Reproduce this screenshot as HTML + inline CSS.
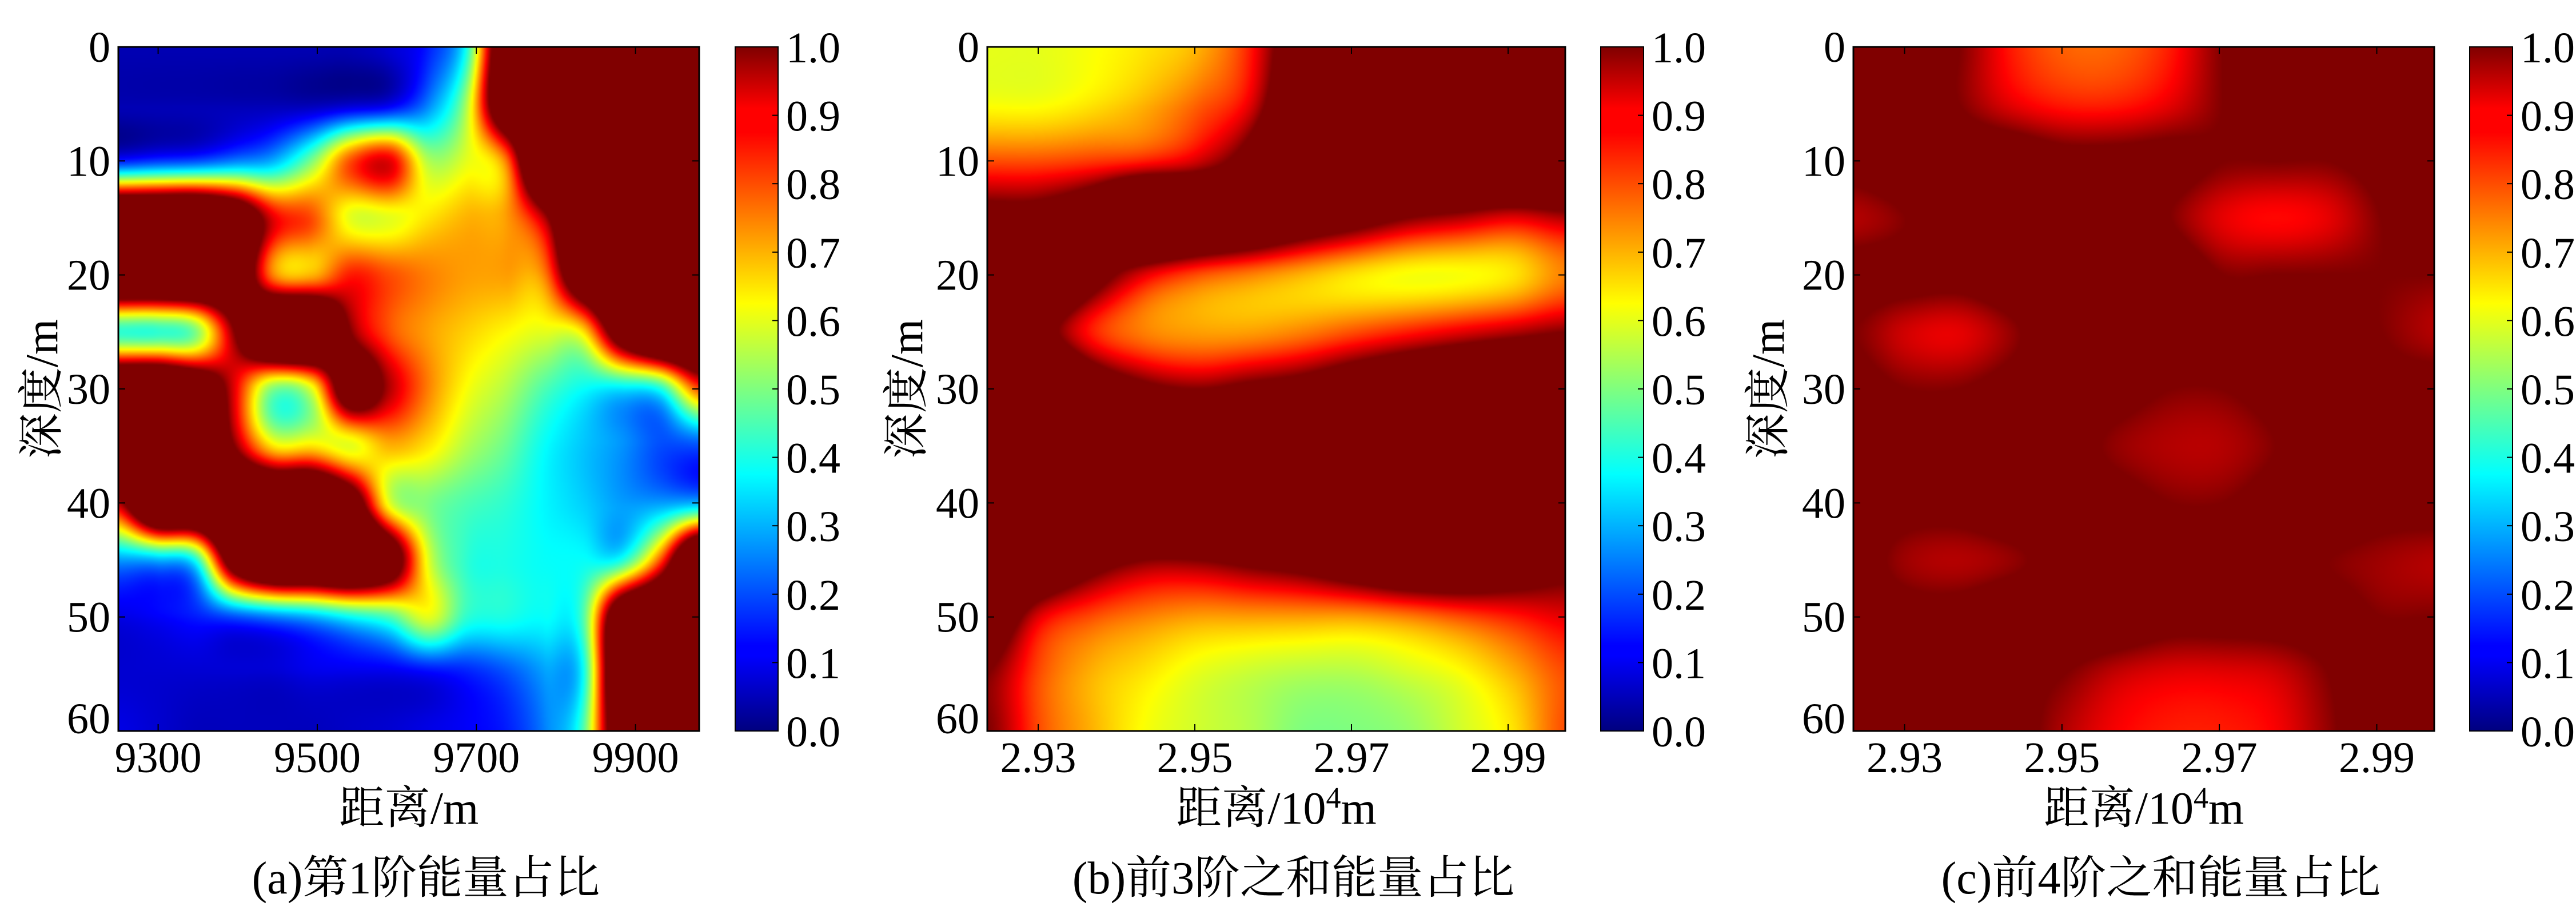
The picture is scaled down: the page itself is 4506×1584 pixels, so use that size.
<!DOCTYPE html>
<html><head><meta charset="utf-8">
<style>
html,body{margin:0;padding:0;background:#fff;}
#wrap{position:relative;width:4506px;height:1584px;overflow:hidden;background:#fff;}
canvas{position:absolute;}
svg{position:absolute;left:0;top:0;font-family:"Liberation Serif","Times New Roman","DejaVu Serif","Noto Serif CJK SC",serif;}
</style></head>
<body>
<div id="wrap">
<canvas id="ca"></canvas>
<canvas id="cb"></canvas>
<canvas id="cc"></canvas>
<svg id="svg" width="4506" height="1584">
<defs>
<linearGradient id="jet" x1="0" y1="1" x2="0" y2="0">
<stop offset="0" stop-color="#00007f"/><stop offset="0.11" stop-color="#0000ff"/>
<stop offset="0.125" stop-color="#0000ff"/><stop offset="0.34" stop-color="#00dbff"/>
<stop offset="0.375" stop-color="#00ffff"/><stop offset="0.5" stop-color="#7fff7f"/>
<stop offset="0.625" stop-color="#ffff00"/><stop offset="0.66" stop-color="#ffdb00"/>
<stop offset="0.875" stop-color="#ff0000"/><stop offset="0.91" stop-color="#ff0000"/>
<stop offset="1" stop-color="#7f0000"/>
</linearGradient>
</defs>
</svg>
</div>
<script>
const depthRows = [0,5,10,15,20,25,30,35,40,45,50,55,60];
const distA = [9250,9299,9347,9396,9445,9493,9542,9591,9639,9688,9737,9785,9834,9883,9931,9980];
const valuesA = [
[0.05,0.05,0.05,0.05,0.05,0.05,0.05,0.08,0.15,0.4,1.3,1.5,1.5,1.5,1.5,1.5],
[0.05,0.05,0.05,0.05,0.05,0.05,0.07,0.1,0.25,0.55,1.3,1.5,1.5,1.5,1.5,1.5],
[0.15,0.18,0.2,0.25,0.3,0.5,0.8,0.9,0.55,0.6,0.75,1.5,1.5,1.5,1.5,1.5],
[1.5,1.5,1.5,1.3,0.9,0.8,0.6,0.6,0.65,0.7,0.72,0.95,1.5,1.5,1.5,1.5],
[1.5,1.5,1.5,1.3,0.75,0.7,0.85,0.8,0.75,0.72,0.72,0.75,1.3,1.5,1.5,1.5],
[0.42,0.42,0.5,1.0,1.5,1.5,1.0,0.8,0.72,0.67,0.63,0.6,0.65,1.2,1.5,1.5],
[1.5,1.5,1.3,0.9,0.5,0.6,1.2,0.95,0.75,0.62,0.55,0.45,0.38,0.35,0.4,0.8],
[1.5,1.5,1.5,1.0,0.65,0.65,0.6,0.7,0.65,0.55,0.48,0.38,0.32,0.27,0.2,0.2],
[0.95,1.5,1.5,1.5,1.5,1.5,1.2,0.6,0.5,0.45,0.42,0.37,0.33,0.28,0.28,0.3],
[0.28,0.3,0.4,1.2,1.5,1.5,1.5,1.2,0.6,0.42,0.4,0.38,0.38,0.4,0.8,1.5],
[0.1,0.12,0.15,0.2,0.25,0.3,0.38,0.45,0.6,0.42,0.4,0.38,0.45,1.3,1.5,1.5],
[0.08,0.08,0.08,0.08,0.08,0.1,0.1,0.1,0.12,0.15,0.2,0.28,0.38,1.4,1.5,1.5],
[0.1,0.08,0.06,0.06,0.06,0.06,0.07,0.08,0.1,0.12,0.15,0.25,0.45,1.3,1.5,1.5]];
const distBC = [2.9235,2.9302,2.9369,2.9436,2.9503,2.9570,2.9638,2.9705,2.9772,2.9839,2.9906,2.9973];
const valuesB = [
[0.6,0.6,0.62,0.65,0.7,0.85,1.2,1.5,1.5,1.5,1.5,1.5],
[0.62,0.62,0.65,0.7,0.78,0.9,1.3,1.5,1.5,1.5,1.5,1.5],
[0.8,0.8,0.82,0.85,0.92,1.1,1.5,1.5,1.5,1.5,1.5,1.5],
[1.1,1.1,1.2,1.5,1.4,1.3,1.2,1.1,1.0,0.95,0.9,0.95],
[1.5,1.4,1.1,0.9,0.8,0.75,0.7,0.65,0.62,0.62,0.65,0.75],
[1.4,1.1,0.85,0.75,0.72,0.72,0.75,0.8,0.85,0.9,0.95,1.0],
[1.5,1.5,1.2,1.05,1.0,1.05,1.1,1.2,1.3,1.4,1.5,1.5],
[1.5,1.5,1.5,1.5,1.5,1.5,1.5,1.5,1.5,1.5,1.5,1.5],
[1.5,1.5,1.5,1.5,1.5,1.5,1.5,1.5,1.5,1.5,1.5,1.5],
[1.5,1.3,1.1,1.0,1.0,1.05,1.1,1.2,1.3,1.3,1.2,1.1],
[1.2,0.9,0.8,0.75,0.72,0.72,0.72,0.72,0.75,0.8,0.85,0.9],
[1.0,0.8,0.7,0.65,0.6,0.57,0.55,0.55,0.58,0.62,0.7,0.8],
[1.0,0.8,0.7,0.62,0.58,0.55,0.5,0.5,0.52,0.58,0.65,0.8]];
const valuesC = [
[1.1,1.1,1.0,0.85,0.78,0.78,0.85,1.0,1.1,1.1,1.1,1.1],
[1.1,1.1,1.0,0.9,0.85,0.85,0.9,1.0,1.1,1.1,1.1,1.1],
[1.05,1.1,1.1,1.1,1.05,1.05,1.05,1.0,1.0,1.0,1.05,1.1],
[0.95,1.0,1.1,1.1,1.1,1.1,1.0,0.9,0.87,0.9,1.0,1.1],
[1.05,1.05,1.05,1.1,1.1,1.1,1.1,1.0,1.0,1.0,1.0,1.0],
[1.0,0.92,0.9,0.98,1.1,1.1,1.1,1.1,1.1,1.05,1.0,0.95],
[1.05,1.0,1.0,1.05,1.1,1.05,1.0,1.0,1.05,1.1,1.05,1.05],
[1.1,1.1,1.1,1.1,1.05,0.98,0.95,0.95,1.0,1.1,1.1,1.1],
[1.1,1.05,1.05,1.1,1.1,1.05,1.0,1.0,1.05,1.1,1.05,1.05],
[1.05,0.97,0.95,0.98,1.05,1.1,1.1,1.1,1.05,1.0,0.97,0.95],
[1.1,1.05,1.05,1.1,1.1,1.1,1.05,1.05,1.05,1.05,1.0,1.0],
[1.1,1.1,1.1,1.05,1.0,0.93,0.9,0.9,0.92,1.0,1.1,1.1],
[1.1,1.1,1.1,1.05,0.95,0.88,0.85,0.85,0.88,0.98,1.1,1.1]];
const yTicks = [0,10,20,30,40,50,60];
const xTicksA = [9300,9500,9700,9900];
const xTickLabelsA = ["9300","9500","9700","9900"];
const xTicksBC = [2.93,2.95,2.97,2.99];
const xTickLabelsBC = ["2.93","2.95","2.97","2.99"];
const cbTicks = [0,0.1,0.2,0.3,0.4,0.5,0.6,0.7,0.8,0.9,1.0];
const cbLabels = ["0.0","0.1","0.2","0.3","0.4","0.5","0.6","0.7","0.8","0.9","1.0"];

const TOP=82, BOT=1278;
const FONT='"Liberation Serif","Times New Roman","DejaVu Serif","Noto Serif CJK SC",serif';
const panels = [
 {id:'a',canvas:'ca',L:207,R:1223,cbL:1286,xs:distA,vals:valuesA,xt:xTicksA,xl:xTickLabelsA,ytx:72,cap:"(a)第1阶能量占比",xtitle:"距离/m",sup:false},
 {id:'b',canvas:'cb',L:1727,R:2738,cbL:2800,xs:distBC,vals:valuesB,xt:xTicksBC,xl:xTickLabelsBC,ytx:1585,cap:"(b)前3阶之和能量占比",xtitle:"距离/10",sup:true},
 {id:'c',canvas:'cc',L:3242,R:4258,cbL:4320,xs:distBC,vals:valuesC,xt:xTicksBC,xl:xTickLabelsBC,ytx:3092,cap:"(c)前4阶之和能量占比",xtitle:"距离/10",sup:true}
];
const CBW=75;
function clamp(v){return v<0?0:v>1?1:v;}
function jet(v){v=clamp(v);return [clamp(1.5-Math.abs(4*v-3)),clamp(1.5-Math.abs(4*v-2)),clamp(1.5-Math.abs(4*v-1))];}
function cr(p0,p1,p2,p3,t){return 0.5*((2*p1)+(-p0+p2)*t+(2*p0-5*p1+4*p2-p3)*t*t+(-p0+3*p1-3*p2+p3)*t*t*t);}
function sample(vals,fx,fy){
  const nr=vals.length,nc=vals[0].length;
  const g=(r,c)=>vals[Math.max(0,Math.min(nr-1,r))][Math.max(0,Math.min(nc-1,c))];
  const c0=Math.floor(fx),r0=Math.floor(fy),tx=fx-c0,ty=fy-r0;
  const rows=[];
  for(let k=-1;k<=2;k++){rows.push(cr(g(r0+k,c0-1),g(r0+k,c0),g(r0+k,c0+1),g(r0+k,c0+2),tx));}
  return cr(rows[0],rows[1],rows[2],rows[3],ty);
}
const svg=document.getElementById('svg');
const NS='http://www.w3.org/2000/svg';
function mk(tag,attrs,parent){const e=document.createElementNS(NS,tag);for(const k in attrs)e.setAttribute(k,attrs[k]);if(tag==='text'){e.setAttribute('font-family',FONT);e.style.fontFamily=FONT;e.setAttribute('fill','#000');}(parent||svg).appendChild(e);return e;}

panels.forEach(p=>{
  const W=p.R-p.L,H=BOT-TOP;
  const xmin=p.xs[0],xmax=p.xs[p.xs.length-1];
  const xScale=v=>p.L+(v-xmin)/(xmax-xmin)*W;
  const yScale=d=>TOP+(d-0)/(60-0)*H;
  const cv=document.getElementById(p.canvas);
  const sw=Math.round(W/3),sh=Math.round(H/3);
  cv.width=sw;cv.height=sh;
  cv.style.left=p.L+'px';cv.style.top=TOP+'px';cv.style.width=W+'px';cv.style.height=H+'px';
  const ctx=cv.getContext('2d');const img=ctx.createImageData(sw,sh);
  const nc=p.vals[0].length,nr=p.vals.length;
  for(let j=0;j<sh;j++){
    const dep=(j+0.5)/sh*60;
    const fy=(dep-depthRows[0])/(depthRows[nr-1]-depthRows[0])*(nr-1);
    for(let i=0;i<sw;i++){
      const xv=xmin+(i+0.5)/sw*(xmax-xmin);
      const fx=(xv-p.xs[0])/(p.xs[nc-1]-p.xs[0])*(nc-1);
      const c=jet(sample(p.vals,fx,fy));
      const o=(j*sw+i)*4;img.data[o]=c[0]*255;img.data[o+1]=c[1]*255;img.data[o+2]=c[2]*255;img.data[o+3]=255;
    }
  }
  ctx.putImageData(img,0,0);
  const g=mk('g',{});
  
  
  const fr=mk('rect',{x:p.L,y:TOP,width:W,height:H,fill:'none',stroke:'#000','stroke-width':3},g);
  
  
  yTicks.forEach(t=>{
    const y=yScale(t);
    mk('line',{x1:p.L,x2:p.L+12,y1:y,y2:y,stroke:'#000','stroke-width':2},g);
    mk('line',{x1:p.R,x2:p.R-12,y1:y,y2:y,stroke:'#000','stroke-width':2},g);
    const tx=mk('text',{x:p.L-14,y:Math.min(y,BOT-22)+26,'text-anchor':'end','font-size':76},g);
    tx.textContent=String(t);
    
    
  });
  p.xt.forEach((t,k)=>{
    const x=xScale(t);
    mk('line',{x1:x,x2:x,y1:BOT,y2:BOT-12,stroke:'#000','stroke-width':2},g);
    mk('line',{x1:x,x2:x,y1:TOP,y2:TOP+12,stroke:'#000','stroke-width':2},g);
    const tx=mk('text',{x:x,y:BOT+72,'text-anchor':'middle','font-size':76},g);
    tx.textContent=p.xl[k];
    
    
  });
  const xt=mk('text',{x:(p.L+p.R)/2,y:1440,'text-anchor':'middle','font-size':80},g);
  xt.textContent=p.xtitle;
  if(p.sup){const s=mk('tspan',{dy:-28,'font-size':52},xt);s.textContent='4';const m=mk('tspan',{dy:28},xt);m.textContent='m';}
  
  
  const yt=mk('text',{x:0,y:0,'text-anchor':'middle','font-size':80,transform:`translate(${p.ytx+28},${(TOP+BOT)/2}) rotate(-90)`},g);
  yt.textContent='深度/m';
  
  
  const cp=mk('text',{x:(p.L+p.R)/2+30,y:1562,'text-anchor':'middle','font-size':80},g);
  cp.textContent=p.cap;
  
  
  const cb=mk('rect',{x:p.cbL,y:TOP,width:CBW,height:H,fill:'url(#jet)',stroke:'#000','stroke-width':2},g);
  
  
  const cbScale=v=>BOT-v*H;
  cbTicks.forEach((t,k)=>{
    const y=cbScale(t);
    mk('line',{x1:p.cbL+CBW-10,x2:p.cbL+CBW,y1:y,y2:y,stroke:'#000','stroke-width':2},g);
    const tx=mk('text',{x:p.cbL+CBW+14,y:y+27,'font-size':76},g);
    tx.textContent=cbLabels[k];
    
    
  });
});
</script>
</body></html>
